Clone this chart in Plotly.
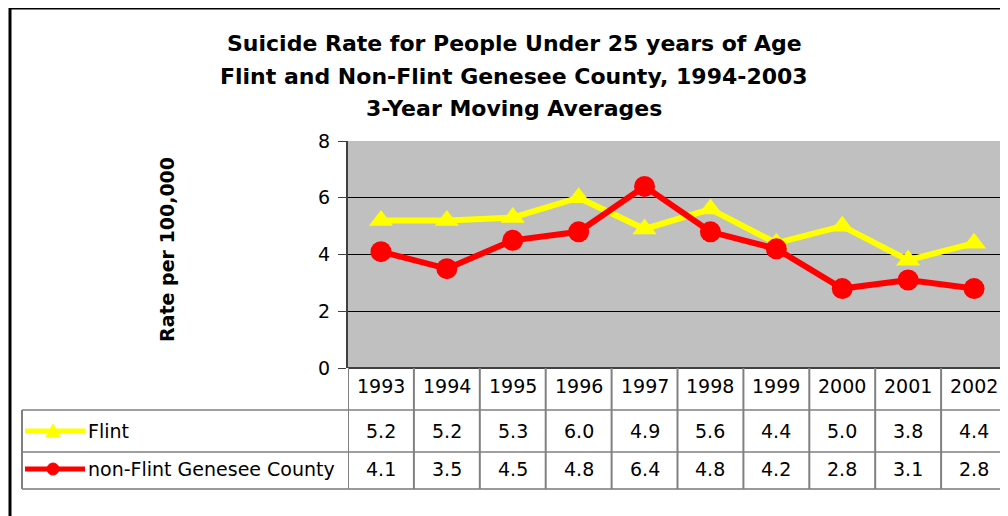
import plotly.graph_objects as go

years = ['1993', '1994', '1995', '1996', '1997', '1998', '1999', '2000', '2001', '2002']
flint = [5.2, 5.2, 5.3, 6.0, 4.9, 5.6, 4.4, 5.0, 3.8, 4.4]
non_flint = [4.1, 3.5, 4.5, 4.8, 6.4, 4.8, 4.2, 2.8, 3.1, 2.8]
series_names = ['Flint', 'non-Flint Genesee County']
title_lines = [
    'Suicide Rate for People Under 25 years of Age',
    'Flint and Non-Flint Genesee County, 1994-2003',
    '3-Year Moving Averages',
]

# the page body has an 8px margin, so the figure is drawn 8px in from the corner
OFF = 8
W, H = 1008 - OFF, 516 - OFF
L, R, T, B = 348, 1007, 141, 368  # plot area, in page pixels
FONT = 'DejaVu Sans, Liberation Sans, Arial, sans-serif'


def px(x):
    return (x - L) / (R - L)


def py(y):
    return (B - y) / (B - T)


def label(x, y, text, size=19, xref='paper', **kw):
    # annotation positioned by its centre unless told otherwise
    d = dict(x=x, y=y, xref=xref, yref='paper', text=text, showarrow=False,
             xanchor='center', yanchor='middle', font=dict(size=size, color='black'))
    d.update(kw)
    return d


xs = list(range(len(years)))

fig = go.Figure()
fig.add_trace(go.Scatter(
    x=xs, y=flint, name=series_names[0], mode='lines+markers',
    line=dict(color='#FFFF00', width=6),
    marker=dict(symbol='triangle-up', size=21, color='#FFFF00'),
    cliponaxis=False,
))
fig.add_trace(go.Scatter(
    x=xs, y=non_flint, name=series_names[1], mode='lines+markers',
    line=dict(color='#FF0000', width=6),
    marker=dict(symbol='circle', size=21, color='#FF0000'),
    cliponaxis=False,
))

shapes = []
annotations = []

# outer frame of the chart
shapes.append(dict(type='line', xref='paper', yref='paper', x0=px(9), x1=px(1012),
                   y0=py(8), y1=py(8), line=dict(color='black', width=3)))
shapes.append(dict(type='line', xref='paper', yref='paper', x0=px(10), x1=px(10),
                   y0=py(7), y1=py(520), line=dict(color='black', width=3)))

# data table: horizontal lines
row_y = [410, 452, 489]
for i, yy in enumerate(row_y):
    shapes.append(dict(type='line', xref='paper', yref='paper', x0=px(22), x1=px(1008),
                       y0=py(yy), y1=py(yy),
                       line=dict(color='#9a9a9a' if i == 2 else '#404040',
                                 width=2 if i == 2 else 1)))
# data table: vertical lines (column boundaries)
for k in range(len(years) + 1):
    shapes.append(dict(type='line', xref='x', yref='paper', x0=k - 0.5, x1=k - 0.5,
                       y0=py(B), y1=py(489), line=dict(color='#808080', width=2)))
shapes.append(dict(type='line', xref='paper', yref='paper', x0=px(22), x1=px(22),
                   y0=py(410), y1=py(489), line=dict(color='#808080', width=2)))

# table values
for i, yr in enumerate(years):
    annotations.append(label(i, py(386), yr, xref='x'))
    annotations.append(label(i, py(431), f'{flint[i]:.1f}', xref='x'))
    annotations.append(label(i, py(469), f'{non_flint[i]:.1f}', xref='x'))

# legend keys inside the table
for name, color, cy in [(series_names[0], '#FFFF00', 431), (series_names[1], '#FF0000', 469)]:
    shapes.append(dict(type='line', xref='paper', yref='paper', x0=px(25), x1=px(85),
                       y0=py(cy), y1=py(cy), line=dict(color=color, width=5)))
    annotations.append(label(px(86), py(cy), name, xanchor='left'))
tri = f'M {px(46)} {py(437)} L {px(60)} {py(437)} L {px(53)} {py(424)} Z'
shapes.append(dict(type='path', xref='paper', yref='paper', path=tri,
                   fillcolor='#FFFF00', line=dict(color='#FFFF00', width=1)))
shapes.append(dict(type='circle', xref='paper', yref='paper', x0=px(47), x1=px(59),
                   y0=py(463), y1=py(475), fillcolor='#FF0000',
                   line=dict(color='#FF0000', width=1)))

# title
for line, yy in zip(title_lines, [43, 76, 108]):
    annotations.append(label(px(514), py(yy), f'<b>{line}</b>', size=22))

# y axis title
annotations.append(label(px(167), py(250), '<b>Rate per 100,000</b>', size=19,
                         textangle=-90))

fig.update_layout(
    width=W, height=H,
    margin=dict(l=L - OFF, r=W + OFF - R, t=T - OFF, b=H + OFF - B, pad=0),
    paper_bgcolor='white',
    plot_bgcolor='#C0C0C0',
    font=dict(family=FONT, color='black'),
    showlegend=False,
    shapes=shapes,
    annotations=annotations,
    xaxis=dict(range=[-0.5, len(years) - 0.5], showticklabels=False, showgrid=False,
               zeroline=False, showline=False, ticks=''),
    yaxis=dict(range=[0, 8], dtick=2, showgrid=True, gridcolor='black', gridwidth=1,
               zeroline=True, zerolinecolor='#404040', zerolinewidth=2,
               showline=True, linecolor='#404040', linewidth=2,
               ticks='outside', ticklen=8, tickcolor='#404040',
               tickfont=dict(size=19, color='black'), ticklabelstandoff=4),
)

fig.write_html('out.html')
